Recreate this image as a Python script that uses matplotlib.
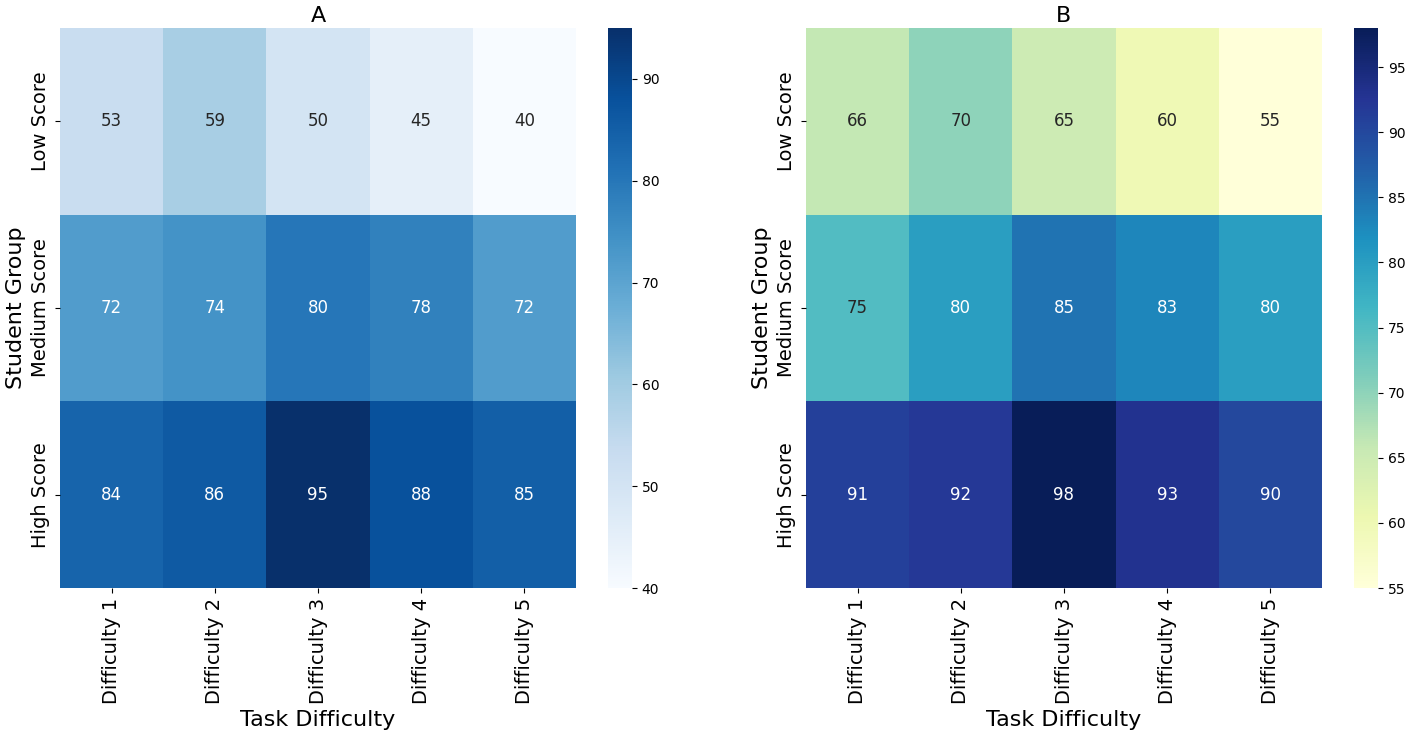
import numpy as np
import matplotlib
matplotlib.use("Agg")
import matplotlib.pyplot as plt
import seaborn as sns

# data
tasks = ["Difficulty 1", "Difficulty 2", "Difficulty 3", "Difficulty 4", "Difficulty 5"]
groups = ["Low Score", "Medium Score", "High Score"]

scores_a = [
    [53, 59, 50, 45, 40],
    [72, 74, 80, 78, 72],
    [84, 86, 95, 88, 85],
]
scores_b = [
    [66, 70, 65, 60, 55],
    [75, 80, 85, 83, 80],
    [91, 92, 98, 93, 90],
]

W, H = 1408, 736
fig = plt.figure(figsize=(W / 100, H / 100), dpi=100)

def box(x0, y0, x1, y1):
    return [x0 / W, 1 - y1 / H, (x1 - x0) / W, (y1 - y0) / H]

panels = [
    (scores_a, "Blues", "A", box(60, 28, 576, 588), box(608, 28, 632, 588)),
    (scores_b, "YlGnBu", "B", box(806, 28, 1322, 588), box(1354, 28, 1378, 588)),
]

for vals, cmap, title, pos, cpos in panels:
    ax = fig.add_axes(pos)
    cax = fig.add_axes(cpos)
    sns.heatmap(np.array(vals), annot=True, fmt="d", cmap=cmap, ax=ax, cbar_ax=cax,
                xticklabels=tasks, yticklabels=groups, annot_kws={"size": 12})
    ax.set_title(title, fontsize=16, pad=4)
    ax.set_xlabel("Task Difficulty", fontsize=16)
    ax.set_ylabel("Student Group", fontsize=16)
    ax.set_xticklabels(tasks, rotation=90, fontsize=14)
    ax.set_yticklabels(groups, rotation=90, va="center", fontsize=14)
    cax.tick_params(labelsize=10)

plt.savefig("out.png", dpi=100)
